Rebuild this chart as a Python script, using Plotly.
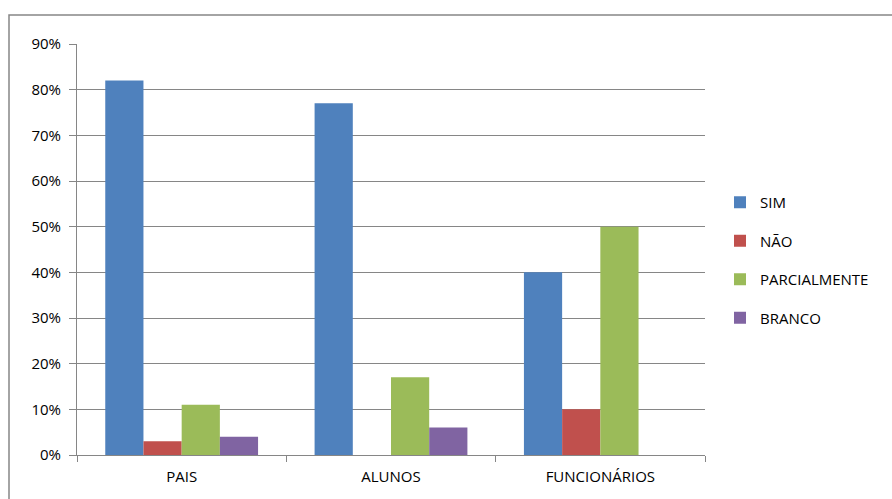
import plotly.graph_objects as go

categories = ["PAIS", "ALUNOS", "FUNCIONÁRIOS"]
series_names = ["SIM", "NÃO", "PARCIALMENTE", "BRANCO"]
sim = [0.82, 0.77, 0.40]
nao = [0.03, 0.0, 0.10]
parcialmente = [0.11, 0.17, 0.50]
branco = [0.04, 0.06, 0.0]
colors = ["#4F81BD", "#C0504D", "#9BBB59", "#8064A2"]

W, H = 892, 499
L, R, T, B = 77, 705, 44, 455
pw, ph = R - L, B - T

fig = go.Figure()
for i, (name, vals) in enumerate(zip(series_names, [sim, nao, parcialmente, branco])):
    fig.add_trace(go.Bar(x=categories, y=vals, name=name, marker_color=colors[i],
                         marker_line_width=0, legendgroup=name))

font = "Open Sans, Liberation Sans, sans-serif"
fig.update_layout(
    width=W, height=H,
    margin=dict(l=L, r=W - R, t=T, b=H - B),
    paper_bgcolor="white", plot_bgcolor="white",
    barmode="group", bargap=0.27, bargroupgap=0,
    font=dict(family=font, size=15, color="#000000"),
    legend=dict(x=(720 - L) / pw, y=(B - 186) / ph, xanchor="left", yanchor="top",
                tracegroupgap=16, font=dict(size=15), itemwidth=30),
    showlegend=True,
)
fig.update_yaxes(range=[0, 0.9], dtick=0.1, tickformat=".0%", showgrid=True,
                 gridcolor="#868686", gridwidth=1, showline=True, linecolor="#868686",
                 ticks="outside", ticklen=7, tickcolor="#868686", zeroline=False,
                 ticklabelstandoff=5)
fig.update_xaxes(showline=True, linecolor="#868686", ticks="outside", tickson="boundaries",
                 ticklen=6, tickcolor="#868686", showgrid=False, mirror=False,
                 ticklabelstandoff=8)

fig.add_shape(type="rect", xref="paper", yref="paper",
              x0=(9 - L) / pw, x1=(W + 5 - L) / pw, y0=(B - (H + 5)) / ph, y1=(B - 15) / ph,
              line=dict(color="#868686", width=1.5), fillcolor="rgba(0,0,0,0)", layer="below")

fig.write_html("out.html")
